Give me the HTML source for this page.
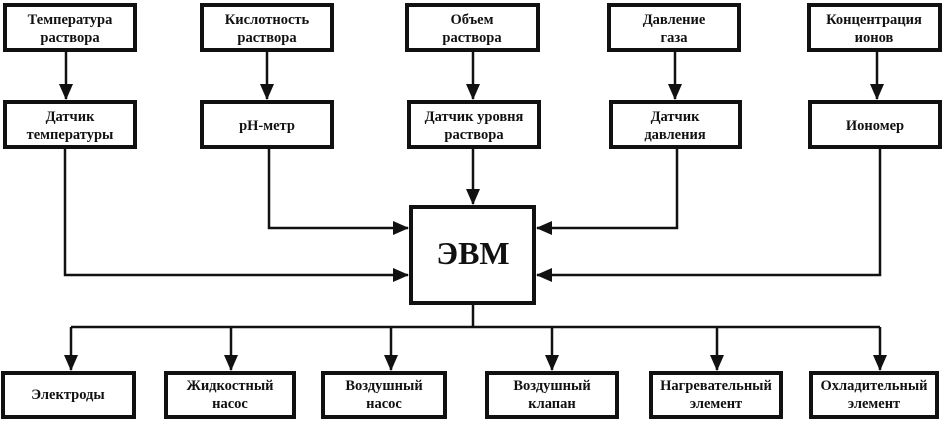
<!DOCTYPE html>
<html><head><meta charset="utf-8"><style>
html,body{margin:0;padding:0;background:#fff;}
svg text{font-family:"Liberation Serif","Noto Serif CJK SC",serif;font-weight:bold;font-size:14.5px;text-anchor:middle;fill:#111;}
</style></head><body>
<svg width="945" height="423" viewBox="0 0 945 423" xmlns="http://www.w3.org/2000/svg">
<defs><marker id="a" markerWidth="10" markerHeight="10" refX="9" refY="5" orient="auto" markerUnits="userSpaceOnUse"><path d="M0,0 L10,5 L0,10 Z" fill="#111"/></marker>
<marker id="b" markerWidth="16" markerHeight="14" refX="15" refY="7" orient="auto" markerUnits="userSpaceOnUse"><path d="M0,0 L16,7 L0,14 Z" fill="#111"/></marker></defs>
<g fill="#fff" stroke="#111" stroke-width="4">
<rect x="5" y="5" width="130" height="45"/>
<rect x="202" y="5" width="130" height="45"/>
<rect x="407" y="5" width="131" height="45"/>
<rect x="609" y="5" width="130" height="45"/>
<rect x="809" y="5" width="131" height="45"/>
<rect x="5" y="102" width="130" height="45"/>
<rect x="202" y="102" width="130" height="45"/>
<rect x="409" y="102" width="130" height="45"/>
<rect x="611" y="102" width="129" height="45"/>
<rect x="810" y="102" width="130" height="45"/>
<rect x="411" y="207" width="123" height="96"/>
<rect x="3" y="373" width="131" height="44"/>
<rect x="166" y="373" width="128" height="44"/>
<rect x="323" y="373" width="122" height="44"/>
<rect x="487" y="373" width="130" height="44"/>
<rect x="651" y="373" width="130" height="44"/>
<rect x="811" y="373" width="126" height="44"/>
</g>
<g stroke="#111" stroke-width="2.5" fill="none">
<line x1="66" y1="52" x2="66" y2="99" marker-end="url(#b)"/>
<line x1="267" y1="52" x2="267" y2="99" marker-end="url(#b)"/>
<line x1="473" y1="52" x2="473" y2="99" marker-end="url(#b)"/>
<line x1="675" y1="52" x2="675" y2="99" marker-end="url(#b)"/>
<line x1="877" y1="52" x2="877" y2="99" marker-end="url(#b)"/>
<line x1="473" y1="149" x2="473" y2="204" marker-end="url(#b)"/>
<polyline points="269,149 269,228 408,228" marker-end="url(#b)"/>
<polyline points="65,149 65,275 408,275" marker-end="url(#b)"/>
<polyline points="677,149 677,228 537,228" marker-end="url(#b)"/>
<polyline points="880,149 880,275 537,275" marker-end="url(#b)"/>
<line x1="473" y1="305" x2="473" y2="327"/>
<line x1="71" y1="327" x2="880" y2="327"/>
<line x1="71" y1="327" x2="71" y2="370" marker-end="url(#b)"/>
<line x1="231" y1="327" x2="231" y2="370" marker-end="url(#b)"/>
<line x1="391" y1="327" x2="391" y2="370" marker-end="url(#b)"/>
<line x1="552" y1="327" x2="552" y2="370" marker-end="url(#b)"/>
<line x1="717" y1="327" x2="717" y2="370" marker-end="url(#b)"/>
<line x1="880" y1="327" x2="880" y2="370" marker-end="url(#b)"/>
</g>
<text x="70" y="24">Температура</text><text x="70" y="42">раствора</text>
<text x="267" y="24">Кислотность</text><text x="267" y="42">раствора</text>
<text x="472" y="24">Объем</text><text x="472" y="42">раствора</text>
<text x="674" y="24">Давление</text><text x="674" y="42">газа</text>
<text x="874" y="24">Концентрация</text><text x="874" y="42">ионов</text>
<text x="70" y="121">Датчик</text><text x="70" y="139">температуры</text>
<text x="267" y="130">pH-метр</text>
<text x="474" y="121">Датчик уровня</text><text x="474" y="139">раствора</text>
<text x="675" y="121">Датчик</text><text x="675" y="139">давления</text>
<text x="875" y="130">Иономер</text>
<text x="473" y="264" style="font-size:32px">ЭВМ</text>
<text x="68" y="399">Электроды</text>
<text x="230" y="390">Жидкостный</text><text x="230" y="408">насос</text>
<text x="384" y="390">Воздушный</text><text x="384" y="408">насос</text>
<text x="552" y="390">Воздушный</text><text x="552" y="408">клапан</text>
<text x="716" y="390">Нагревательный</text><text x="716" y="408">элемент</text>
<text x="874" y="390">Охладительный</text><text x="874" y="408">элемент</text>
</svg>
</body></html>
